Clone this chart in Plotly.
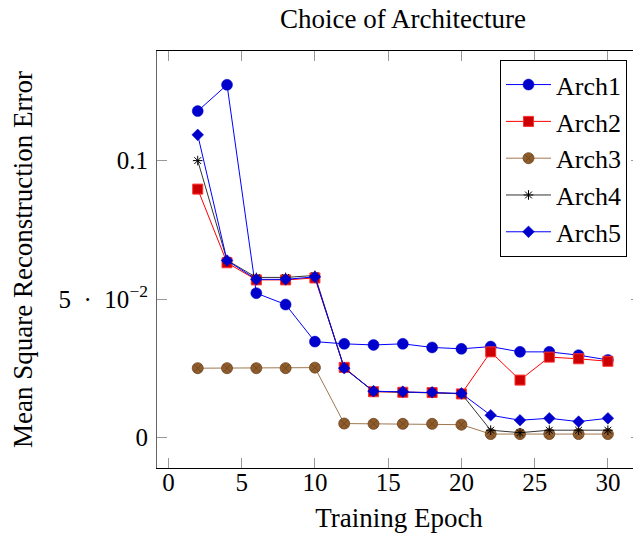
import plotly.graph_objects as go

epochs = [2, 4, 6, 8, 10, 12, 14, 16, 18, 20, 22, 24, 26, 28, 30]
arch1 = [0.1179, 0.1274, 0.0521, 0.0480, 0.0346, 0.0338, 0.0334, 0.0338, 0.0325, 0.0320, 0.0328, 0.0309, 0.0309, 0.0297, 0.0280]
arch2 = [0.0897, 0.0631, 0.0569, 0.0569, 0.0576, 0.0253, 0.0165, 0.0163, 0.0162, 0.0157, 0.0309, 0.0207, 0.0290, 0.0284, 0.0275]
arch3 = [0.0250, 0.0250, 0.0250, 0.0250, 0.0252, 0.0050, 0.0049, 0.0049, 0.0049, 0.0046, 0.0012, 0.0012, 0.0012, 0.0012, 0.0012]
arch4 = [0.1000, 0.0640, 0.0578, 0.0578, 0.0585, 0.0250, 0.0166, 0.0164, 0.0162, 0.0158, 0.0026, 0.0017, 0.0026, 0.0026, 0.0026]
arch5 = [0.1093, 0.0639, 0.0571, 0.0571, 0.0580, 0.0250, 0.0167, 0.0165, 0.0163, 0.0159, 0.0080, 0.0062, 0.0069, 0.0057, 0.0069]

names = ["Arch1", "Arch2", "Arch3", "Arch4", "Arch5"]
x_ticks = [0, 5, 10, 15, 20, 25, 30]
y_ticks = [0, 0.05, 0.1]
y_tick_labels = ["0", "5\u2002·\u200210<sup>−2</sup>", "0.1"]

FONT = "Liberation Serif, Times New Roman, serif"

styles = [
    dict(line=dict(color="#0000ff", width=1),
         marker=dict(symbol="circle", size=11, color="#0000cc", line=dict(color="#0000cc", width=0.5))),
    dict(line=dict(color="#ff0000", width=1),
         marker=dict(symbol="square", size=10, color="#cc0000", line=dict(color="#ff3030", width=1))),
    dict(line=dict(color="#a07850", width=1),
         marker=dict(symbol="circle-x", size=11, color="#8f5c2c", line=dict(color="#6b4420", width=0.8))),
    dict(line=dict(color="#333333", width=1),
         marker=dict(symbol="asterisk-open", size=8, color="#000000", line=dict(color="#000000", width=1))),
    dict(line=dict(color="#0000ff", width=1),
         marker=dict(symbol="diamond", size=9, color="#0000cc", line=dict(color="#0000cc", width=0.5))),
]

fig = go.Figure()
for name, ys, st in zip(names, [arch1, arch2, arch3, arch4, arch5], styles):
    fig.add_trace(go.Scatter(x=epochs, y=ys, name=name, mode="lines+markers",
                             line=st["line"], marker=st["marker"]))

# page body has an 8px margin, so the figure is offset by 8px
W, H = 633, 528
fig.update_layout(
    width=W, height=H,
    margin=dict(l=149, r=0, t=43, b=68),
    paper_bgcolor="white", plot_bgcolor="white",
    font=dict(family=FONT, size=26, color="black"),
    title=dict(text="Choice of Architecture", x=395 / W, xanchor="center",
               y=1 - 11 / H, yanchor="middle", font=dict(size=27)),
    legend=dict(x=(500 - 157) / 484, y=1 - 9 / 409, xanchor="left", yanchor="top",
                bgcolor="white", bordercolor="black", borderwidth=1,
                font=dict(size=26), itemwidth=45, tracegroupgap=0),
    showlegend=True,
)
fig.update_xaxes(
    range=[-0.78, 32.26], tickvals=x_ticks, ticktext=[str(v) for v in x_ticks],
    showgrid=False, zeroline=False, showline=True, linecolor="black", linewidth=1,
    mirror="allticks", ticks="inside", ticklen=10, tickcolor="#999999", tickwidth=1,
    tickfont=dict(size=25), ticklabelstandoff=-8, automargin=False,
    title=dict(text="Training Epoch", font=dict(size=27), standoff=13),
)
fig.update_yaxes(
    range=[-0.01106, 0.1396], tickvals=y_ticks, ticktext=y_tick_labels,
    showgrid=False, zeroline=False, showline=True, linecolor="#666666", linewidth=1,
    mirror="allticks", ticks="inside", ticklen=10, tickcolor="#999999", tickwidth=1,
    tickfont=dict(size=25), ticklabelstandoff=3, automargin=False,
    title=dict(text="Mean Square Reconstruction Error", font=dict(size=27), standoff=24),
)

fig.write_html("out.html")
